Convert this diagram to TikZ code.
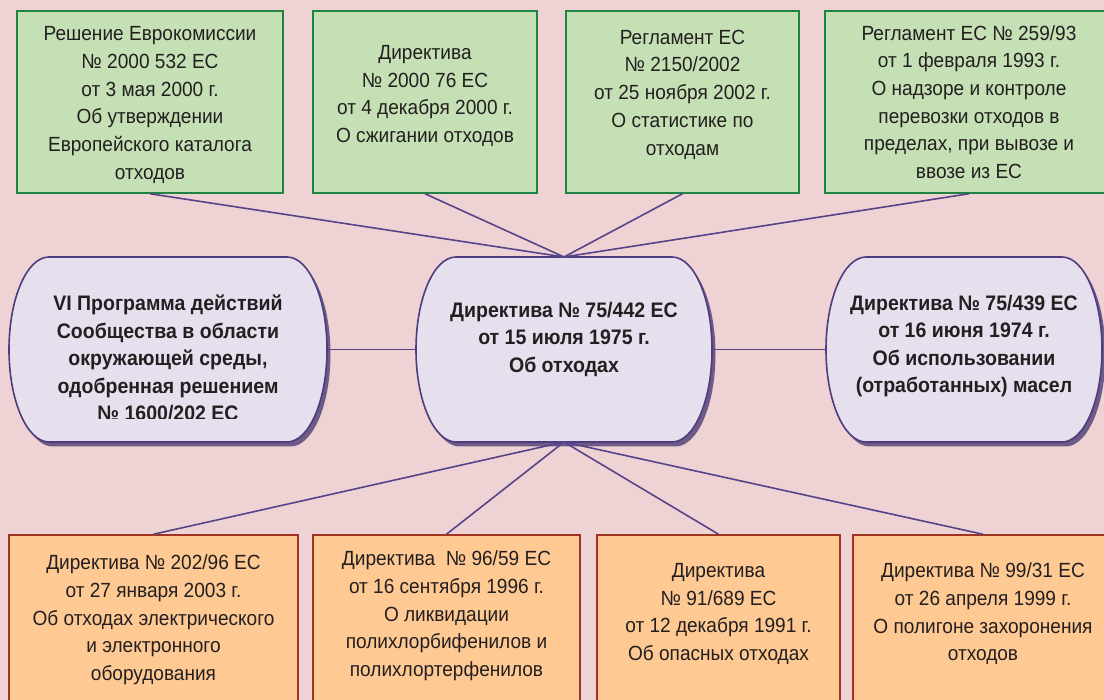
\documentclass[tikz,border=0pt]{standalone}
\usepackage{fontspec}
\setmainfont{Liberation Sans}[FakeStretch=0.93]
\definecolor{bg}{HTML}{EFD3D4}
\definecolor{gfill}{HTML}{C5E0B4}
\definecolor{gborder}{HTML}{1F8443}
\definecolor{ofill}{HTML}{FEC992}
\definecolor{oborder}{HTML}{9E3421}
\definecolor{lfill}{HTML}{E6E0EE}
\definecolor{lborder}{HTML}{4F3B7E}
\definecolor{lshadow}{HTML}{6C5B87}
\definecolor{conncol}{HTML}{56448A}
\definecolor{txt}{HTML}{231F20}
\newcommand\capsulepath[2]{(#1-#2+40,443) -- (#1+#2-40,443) arc[start angle=90,end angle=-90,x radius=40pt,y radius=92.5pt] -- (#1-#2+40,258) arc[start angle=270,end angle=90,x radius=40pt,y radius=92.5pt] -- cycle}
\tikzset{
  gbox/.style={draw=gborder, fill=gfill, line width=1.5pt, inner sep=0pt, minimum height=182pt},
  obox/.style={draw=oborder, fill=ofill, line width=1.5pt, inner sep=0pt, minimum height=187pt},
  capsule/.style={draw=lborder, fill=lfill, line width=1.6pt},
  capshadow/.style={fill=lshadow},
  btext/.style={align=center, inner sep=0pt, text=txt, font=\fontsize{20.5}{27.7}\selectfont},
  etext/.style={align=center, inner sep=0pt, text=txt, font=\fontsize{21}{27.5}\selectfont\bfseries},
  conn/.style={draw=conncol, line width=1.6pt}
}
\begin{document}
\begin{tikzpicture}[x=1pt,y=1pt]
\useasboundingbox (0,0) rectangle (1104,700);
\fill[bg] (0,0) rectangle (1104,700);

% top green boxes
\node[gbox, minimum width=266pt] (b1) at (150,598) {};
\node[gbox, minimum width=224pt] (b2) at (425,598) {};
\node[gbox, minimum width=233pt] (b3) at (682.5,598) {};
\node[gbox, minimum width=288pt] (b4) at (969,598) {};
\node[btext] (b1t) at (150,595) {Решение Еврокомиссии\\№ 2000 532 ЕС\\от 3 мая 2000 г.\\Об утверждении\\Европейского каталога\\отходов};
\node[btext] (b2t) at (425,604) {Директива\\№ 2000 76 ЕС\\от 4 декабря 2000 г.\\О сжигании отходов};
\node[btext] (b3t) at (682.5,605.5) {Регламент ЕС\\№ 2150/2002\\от 25 ноября 2002 г.\\О статистике по\\отходам};
\node[btext] (b4t) at (969,598) {Регламент ЕС № 259/93\\от 1 февраля 1993 г.\\О надзоре и контроле\\перевозки отходов в\\пределах, при вывозе и\\ввозе из ЕС};

% bottom orange boxes
\node[obox, minimum width=289pt] (c1) at (153.5,71.5) {};
\node[obox, minimum width=267pt] (c2) at (446.5,71.5) {};
\node[obox, minimum width=243pt] (c3) at (718.5,71.5) {};
\node[obox, minimum width=260pt] (c4) at (983,71.5) {};
\node[btext] (c1t) at (153.5,80) {Директива № 202/96 ЕС\\от 27 января 2003 г.\\Об отходах электрического\\и электронного\\оборудования};
\node[btext] (c2t) at (446.5,84) {Директива~ № 96/59 ЕС\\от 16 сентября 1996 г.\\О ликвидации\\полихлорбифенилов и\\полихлортерфенилов};
\node[btext] (c3t) at (718.5,86) {Директива\\№ 91/689 ЕС\\от 12 декабря 1991 г.\\Об опасных отходах};
\node[btext] (c4t) at (983,86) {Директива № 99/31 ЕС\\от 26 апреля 1999 г.\\О полигоне захоронения\\отходов};

% capsules
\begin{scope}[shift={(3.5,-4.5)}]
\fill[capshadow] \capsulepath{168}{159};
\fill[capshadow] \capsulepath{564}{148};
\fill[capshadow] \capsulepath{964}{138};
\end{scope}
\filldraw[capsule] \capsulepath{168}{159};
\filldraw[capsule] \capsulepath{564}{148};
\filldraw[capsule] \capsulepath{964}{138};
\coordinate (e1e) at (327,350.5);
\coordinate (e2w) at (416,350.5);
\coordinate (e2e) at (712,350.5);
\coordinate (e3w) at (826,350.5);
\coordinate (e2n) at (564,443);
\coordinate (e2s) at (564,258);
\begin{scope}
\clip (0,281) rectangle (1104,700);
\node[etext] (e1) at (168,342) {VI Программа действий\\Сообщества в области\\окружающей среды,\\одобренная решением\\№ 1600/202 ЕС};
\end{scope}
\node[etext] (e2) at (564,361) {Директива № 75/442 ЕС\\от 15 июля 1975 г.\\Об отходах};
\node[etext] (e3) at (964,354) {Директива № 75/439 ЕС\\от 16 июня 1974 г.\\Об использовании\\(отработанных) масел};

% connectors
\draw[conn] (b1.south) -- (e2n);
\draw[conn] (b2.south) -- (e2n);
\draw[conn] (b3.south) -- (e2n);
\draw[conn] (b4.south) -- (e2n);
\draw[conn] (c1.north) -- (e2s);
\draw[conn] (c2.north) -- (e2s);
\draw[conn] (c3.north) -- (e2s);
\draw[conn] (c4.north) -- (e2s);
\draw[conn] (e1e) -- (e2w);
\draw[conn] (e2e) -- (e3w);
\end{tikzpicture}
\end{document}
